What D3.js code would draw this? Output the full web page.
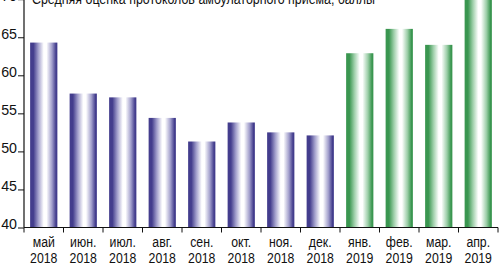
<!DOCTYPE html>
<html><head><meta charset="utf-8">
<script src="https://cdn.jsdelivr.net/npm/d3@7"></script>
<style>
html,body{margin:0;padding:0;background:#fff;}
svg{display:block;}
text{font-family:"Liberation Sans",Arial,sans-serif;fill:#111;}
</style></head>
<body>
<svg id="c" width="499" height="265"></svg>
<script>
const months = ["май","июн.","июл.","авг.","сен.","окт.","ноя.","дек.","янв.","фев.","мар.","апр."];
const years = ["2018","2018","2018","2018","2018","2018","2018","2018","2019","2019","2019","2019"];
const values = [64.3,57.6,57.1,54.4,51.3,53.8,52.5,52.1,62.9,66.1,64.0,71.0];
const yTicks = [40,45,50,55,60,65,70];
const title = "Средняя оценка протоколов амбулаторного приема, баллы";

const svg = d3.select("#c");
const idx = d3.range(months.length);
const x = d3.scaleBand().domain(idx).range([24,498]).paddingInner(0.31).paddingOuter(0.155);
const y = d3.scaleLinear().domain([40,70]).range([227.5,-0.8]);
const SX = 0.82;

const defs = svg.append("defs");
function grad(id, dark, mid){
  const g = defs.append("linearGradient").attr("id",id).attr("x1","0").attr("x2","1").attr("y1","0").attr("y2","0");
  [[0,dark],[0.12,dark],[0.3,mid],[0.5,"#ffffff"],[0.6,"#ffffff"],[0.8,mid],[0.95,dark],[1,dark]].forEach(s=>{
    g.append("stop").attr("offset",s[0]).attr("stop-color",s[1]);
  });
}
grad("gp","#433d8d","#a29fcc");
grad("gg","#3a9650","#9ccea8");

svg.append("g").selectAll("rect").data(idx).join("rect")
  .attr("x",i=>x(i)).attr("width",x.bandwidth())
  .attr("y",i=>y(values[i])).attr("height",i=>y(40)-y(values[i]))
  .attr("fill",i=>years[i]==="2019"?"url(#gg)":"url(#gp)");

// y axis
const ya = svg.append("g").attr("transform","translate(24,0)")
  .call(d3.axisLeft(y).tickValues(yTicks).tickSize(6).tickPadding(0).tickFormat(d3.format("d")));
ya.select(".domain").attr("stroke","#111").attr("stroke-width",1.2).attr("d","M0,0V"+y(40));
ya.selectAll(".tick line").attr("stroke","#111");
ya.selectAll(".tick text").remove();
ya.selectAll(".tick").append("g").attr("transform",`translate(-7,0) scale(0.95,1)`)
  .append("text").attr("text-anchor","end").attr("y",1).attr("font-size",15).attr("fill","#111")
  .style("font-family",'"Liberation Sans",Arial,sans-serif')
  .text(d=>d3.format("d")(d));

// x axis
const xg = svg.append("g");
xg.append("line").attr("x1",24).attr("x2",498).attr("y1",y(40)).attr("y2",y(40)).attr("stroke","#111").attr("stroke-width",1.2);
const bounds = idx.map(i=>x(i)-x.step()*x.paddingInner()/2).concat([498]);
xg.selectAll("line.t").data(bounds).join("line").attr("class","t")
  .attr("x1",d=>d).attr("x2",d=>d).attr("y1",y(40)).attr("y2",y(40)+5).attr("stroke","#111");
const lab = xg.selectAll("g.l").data(idx).join("g").attr("class","l")
  .attr("transform",i=>`translate(${x(i)+x.bandwidth()/2},0) scale(${SX},1)`);
lab.append("text").attr("text-anchor","middle").attr("font-size",15).attr("y",247.5).text(i=>months[i]);
lab.append("text").attr("text-anchor","middle").attr("font-size",15).attr("y",263).text(i=>years[i]);

svg.append("text").attr("x",32).attr("y",3.5).attr("font-size",14)
  .attr("textLength",343).attr("lengthAdjust","spacingAndGlyphs").text(title);
</script>
</body></html>
